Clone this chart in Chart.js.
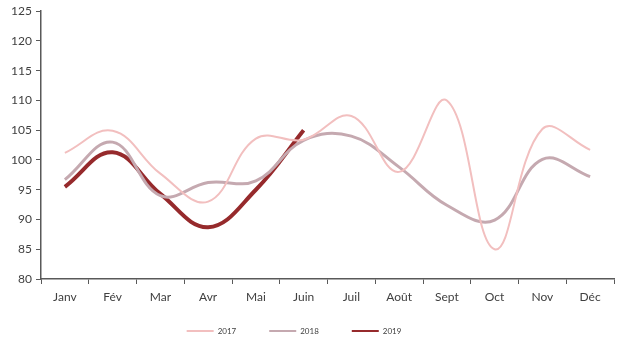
<!DOCTYPE html>
<html>
<head>
<meta charset="utf-8">
<script src="https://cdn.jsdelivr.net/npm/chart.js@4/dist/chart.umd.min.js"></script>
<style>
  html, body { margin: 0; padding: 0; background: #ffffff; }
  #wrap { width: 618px; height: 342px; }
</style>
</head>
<body>
<div id="wrap"><canvas id="chart" width="618" height="342"></canvas></div>
<script>
// Monthly index values by year
const months = ['Janv', 'Fév', 'Mar', 'Avr', 'Mai', 'Juin', 'Juil', 'Août', 'Sept', 'Oct', 'Nov', 'Déc'];
const values2017 = [101.2, 104.9, 97.7, 93.0, 103.6, 103.4, 107.4, 98.0, 110.0, 85.0, 105.2, 101.7];
const values2018 = [96.7, 103.0, 94.0, 96.2, 96.5, 103.3, 104.0, 98.8, 92.4, 89.9, 100.1, 97.2];
const values2019 = [95.5, 101.3, 94.3, 88.7, 95.0, 105.0];
const yTicks = [80, 85, 90, 95, 100, 105, 110, 115, 120, 125];

const axisColor = '#595959';
const textColor = '#404040';

// Reserves little room for the legend, then places its row near the bottom edge
const legendLayout = {
  id: 'legendLayout',
  beforeLayout(chart) {
    const lg = chart.legend;
    if (lg && !lg._compactFit) {
      const fit = lg.fit.bind(lg);
      lg.fit = function () { fit(); this.height = 31.6; };
      lg._compactFit = true;
    }
  },
  afterLayout(chart) {
    const lg = chart.legend;
    if (lg) {
      lg.left -= 13; lg.right -= 13;
      lg.top = 294; lg.bottom = 342; lg.height = 48;
    }
  }
};

new Chart(document.getElementById('chart'), {
  type: 'line',
  data: {
    labels: months,
    datasets: [
      { label: '2017', data: values2017, borderColor: '#f2bfbf', borderWidth: 2, tension: 0.4, pointRadius: 0, fill: false },
      { label: '2018', data: values2018, borderColor: '#c5a9b0', borderWidth: 3, tension: 0.4, pointRadius: 0, fill: false },
      { label: '2019', data: values2019, borderColor: '#962a2c', borderWidth: 4, tension: 0.4, pointRadius: 0, fill: false }
    ]
  },
  plugins: [legendLayout],
  options: {
    responsive: false,
    animation: false,
    layout: { padding: { left: 0, right: 4, top: 4, bottom: 0 } },
    plugins: {
      tooltip: { enabled: false },
      legend: {
        position: 'bottom',
        labels: {
          color: textColor,
          font: { family: 'Lato', size: 8 },
          boxWidth: 27,
          boxHeight: 2,
          padding: 33,
          generateLabels: (chart) => chart.data.datasets.map((ds, i) => ({
            text: ds.label,
            fillStyle: ds.borderColor,
            strokeStyle: ds.borderColor,
            lineWidth: 0,
            hidden: false,
            datasetIndex: i,
            fontColor: textColor
          }))
        }
      }
    },
    scales: {
      x: {
        offset: true,
        grid: { display: true, drawOnChartArea: false, drawTicks: true, tickLength: 5, color: axisColor, offset: true },
        border: { display: true, color: axisColor, width: 1.5 },
        ticks: { color: textColor, font: { family: 'Lato', size: 12 }, padding: 6, maxRotation: 0 }
      },
      y: {
        min: 80,
        max: 125,
        afterBuildTicks: (s) => { s.ticks = yTicks.map(v => ({ value: v })); },
        grid: { display: true, drawOnChartArea: false, drawTicks: true, tickLength: 5, color: axisColor },
        border: { display: true, color: axisColor, width: 1.5 },
        ticks: { color: textColor, font: { family: 'Lato', size: 12 }, padding: 4 },
        afterFit: (s) => { s.width = 41; }
      }
    }
  }
});
</script>
</body>
</html>
